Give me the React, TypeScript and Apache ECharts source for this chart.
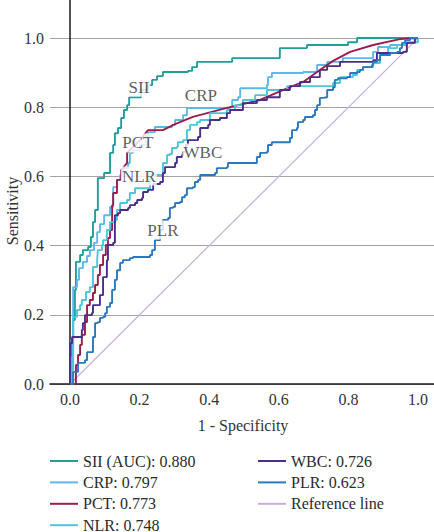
import React, { useEffect, useRef } from "react";
import * as echarts from "echarts";

const FONT = '"Liberation Serif", "Times New Roman", serif';

// Legend entries (AUC values) and line colours
const seriesNames = [
  "SII (AUC): 0.880",
  "CRP: 0.797",
  "PCT: 0.773",
  "NLR: 0.748",
  "WBC: 0.726",
  "PLR: 0.623",
  "Reference line",
];
const seriesColors = ["#1f9e9c", "#5cb8e8", "#9b1d4f", "#4cc6d8", "#4a2d8c", "#2a78bf", "#c9aee0"];

const xTicks = [0, 0.2, 0.4, 0.6, 0.8, 1.0];
const yTicks = [0, 0.2, 0.4, 0.6, 0.8, 1.0];

// ROC curve points: [1 - specificity, sensitivity]
const sii: [number, number][] = [
  [0, 0], [0.003, 0.127], [0.009, 0.185], [0.014, 0.272], [0.017, 0.353], [0.029, 0.373],
  [0.037, 0.387], [0.052, 0.396], [0.06, 0.425], [0.066, 0.468], [0.072, 0.503], [0.08, 0.595],
  [0.098, 0.61], [0.115, 0.668], [0.124, 0.691], [0.129, 0.725], [0.138, 0.74], [0.147, 0.769],
  [0.155, 0.792], [0.164, 0.806], [0.17, 0.829], [0.184, 0.829], [0.204, 0.85], [0.224, 0.864],
  [0.236, 0.879], [0.25, 0.89], [0.267, 0.902], [0.339, 0.905], [0.351, 0.916], [0.365, 0.931],
  [0.466, 0.942], [0.603, 0.971], [0.681, 0.98], [0.799, 0.988], [0.825, 1.0], [1, 1],
];

const crp: [number, number][] = [
  [0, 0], [0.006, 0.078], [0.009, 0.28], [0.02, 0.301], [0.026, 0.335], [0.037, 0.353],
  [0.049, 0.37], [0.057, 0.387], [0.069, 0.408], [0.078, 0.439], [0.086, 0.462], [0.098, 0.488],
  [0.115, 0.512], [0.124, 0.569], [0.135, 0.59], [0.144, 0.604], [0.152, 0.624], [0.167, 0.639],
  [0.172, 0.668], [0.181, 0.676], [0.201, 0.691], [0.218, 0.717], [0.224, 0.728], [0.244, 0.743],
  [0.293, 0.749], [0.302, 0.763], [0.325, 0.777], [0.336, 0.798], [0.46, 0.801], [0.466, 0.821],
  [0.483, 0.829], [0.489, 0.855], [0.566, 0.864], [0.569, 0.887], [0.58, 0.899], [0.67, 0.902],
  [0.71, 0.922], [0.739, 0.931], [0.784, 0.942], [0.871, 0.96], [0.885, 0.974], [0.92, 0.98],
  [0.968, 0.986], [0.991, 1.0], [1, 1],
];

const pct: [number, number][] = [
  [0, 0], [0.017, 0], [0.017, 0.055], [0.023, 0.055], [0.023, 0.084], [0.029, 0.084],
  [0.029, 0.113], [0.034, 0.113], [0.034, 0.142], [0.043, 0.142], [0.043, 0.179], [0.049, 0.179],
  [0.049, 0.228], [0.057, 0.228], [0.057, 0.243], [0.066, 0.243], [0.066, 0.263], [0.072, 0.263],
  [0.072, 0.286], [0.08, 0.286], [0.08, 0.315], [0.086, 0.315], [0.086, 0.344], [0.095, 0.344],
  [0.095, 0.373], [0.103, 0.373], [0.103, 0.402], [0.109, 0.402], [0.109, 0.422], [0.115, 0.422],
  [0.115, 0.445], [0.121, 0.445], [0.121, 0.517], [0.124, 0.517], [0.124, 0.552], [0.135, 0.552],
  [0.135, 0.59], [0.147, 0.59], [0.147, 0.618], [0.164, 0.639], [0.164, 0.668], [0.201, 0.705],
  [0.224, 0.734], [0.267, 0.734], [0.302, 0.751], [0.353, 0.772], [0.451, 0.798], [0.546, 0.821],
  [0.632, 0.858], [0.67, 0.873], [0.71, 0.902], [0.756, 0.934], [0.805, 0.96], [0.871, 0.98],
  [0.948, 0.997], [1, 1],
];

const nlr: [number, number][] = [
  [0, 0], [0.006, 0.04], [0.009, 0.107], [0.009, 0.194], [0.02, 0.214], [0.029, 0.228],
  [0.034, 0.243], [0.046, 0.266], [0.057, 0.28], [0.066, 0.338], [0.078, 0.358], [0.08, 0.387],
  [0.092, 0.402], [0.095, 0.416], [0.106, 0.445], [0.115, 0.468], [0.129, 0.474], [0.135, 0.503],
  [0.144, 0.523], [0.164, 0.532], [0.172, 0.552], [0.187, 0.566], [0.23, 0.604], [0.267, 0.639],
  [0.279, 0.662], [0.287, 0.665], [0.293, 0.682], [0.307, 0.685], [0.31, 0.699], [0.325, 0.705],
  [0.336, 0.734], [0.345, 0.749], [0.365, 0.757], [0.374, 0.763], [0.402, 0.783], [0.451, 0.792],
  [0.474, 0.806], [0.497, 0.821], [0.532, 0.835], [0.566, 0.85], [0.624, 0.861], [0.756, 0.87],
  [0.776, 0.887], [0.813, 0.893], [0.825, 0.908], [0.842, 0.916], [0.871, 0.928], [0.891, 0.951],
  [0.905, 0.957], [0.914, 0.971], [0.94, 0.98], [0.963, 0.988], [1, 1],
];

const wbc: [number, number][] = [
  [0, 0], [0, 0.118], [0.006, 0.136], [0.034, 0.156], [0.037, 0.176], [0.043, 0.199],
  [0.063, 0.205], [0.066, 0.228], [0.086, 0.257], [0.095, 0.309], [0.106, 0.358], [0.109, 0.402],
  [0.124, 0.408], [0.129, 0.488], [0.138, 0.494], [0.144, 0.503], [0.167, 0.509], [0.172, 0.517],
  [0.187, 0.523], [0.193, 0.532], [0.207, 0.538], [0.21, 0.555], [0.224, 0.561], [0.239, 0.578],
  [0.259, 0.584], [0.267, 0.61], [0.273, 0.627], [0.302, 0.639], [0.307, 0.656], [0.322, 0.662],
  [0.325, 0.671], [0.333, 0.691], [0.339, 0.705], [0.368, 0.714], [0.374, 0.74], [0.397, 0.749],
  [0.402, 0.763], [0.431, 0.769], [0.451, 0.783], [0.46, 0.792], [0.497, 0.812], [0.537, 0.821],
  [0.566, 0.829], [0.603, 0.85], [0.632, 0.861], [0.661, 0.873], [0.69, 0.887], [0.718, 0.908],
  [0.739, 0.919], [0.776, 0.931], [0.871, 0.936], [0.882, 0.957], [0.957, 0.96], [0.968, 0.986],
  [0.991, 1.0], [1, 1],
];

const plr: [number, number][] = [
  [0, 0], [0.009, 0.035], [0.023, 0.061], [0.043, 0.069], [0.049, 0.092], [0.066, 0.136],
  [0.072, 0.176], [0.08, 0.179], [0.086, 0.191], [0.095, 0.194], [0.101, 0.205], [0.106, 0.223],
  [0.115, 0.234], [0.121, 0.272], [0.129, 0.301], [0.135, 0.329], [0.144, 0.35], [0.152, 0.358],
  [0.172, 0.364], [0.181, 0.367], [0.23, 0.373], [0.236, 0.387], [0.244, 0.416], [0.259, 0.445],
  [0.267, 0.474], [0.282, 0.48], [0.287, 0.509], [0.296, 0.512], [0.302, 0.523], [0.316, 0.526],
  [0.322, 0.54], [0.33, 0.546], [0.336, 0.566], [0.353, 0.569], [0.359, 0.584], [0.368, 0.59],
  [0.374, 0.604], [0.417, 0.61], [0.422, 0.624], [0.451, 0.627], [0.454, 0.639], [0.532, 0.639],
  [0.537, 0.656], [0.546, 0.668], [0.566, 0.671], [0.569, 0.691], [0.58, 0.699], [0.632, 0.711],
  [0.638, 0.734], [0.652, 0.74], [0.655, 0.757], [0.67, 0.763], [0.675, 0.772], [0.698, 0.777],
  [0.704, 0.792], [0.71, 0.806], [0.718, 0.827], [0.727, 0.829], [0.739, 0.85], [0.756, 0.858],
  [0.761, 0.879], [0.77, 0.884], [0.796, 0.887], [0.805, 0.899], [0.825, 0.902], [0.833, 0.908],
  [0.842, 0.916], [0.868, 0.922], [0.871, 0.931], [0.882, 0.936], [0.891, 0.951], [0.92, 0.957],
  [0.94, 0.96], [0.948, 0.971], [0.954, 0.986], [0.963, 0.994], [0.977, 1.0], [1, 1],
];

const referenceLine: [number, number][] = [[0, 0], [1, 1]];

// Curve name tags placed inside the plot
const curveTags: { name: string; value: [number, number] }[] = [
  { name: "SII", value: [0.198, 0.858] },
  { name: "CRP", value: [0.376, 0.835] },
  { name: "PCT", value: [0.195, 0.697] },
  { name: "NLR", value: [0.198, 0.601] },
  { name: "WBC", value: [0.382, 0.668] },
  { name: "PLR", value: [0.267, 0.445] },
];

const curveData = [sii, crp, pct, nlr, wbc, plr, referenceLine];
const stepped = [true, true, false, true, true, true, false];

export default function App() {
  const ref = useRef<HTMLDivElement>(null);

  useEffect(() => {
    if (!ref.current) return;
    const chart = echarts.init(ref.current, undefined, { renderer: "svg" });

    const lineSeries = curveData.map((data, i) => ({
      type: "line",
      name: seriesNames[i],
      data,
      step: stepped[i] ? "end" : undefined,
      showSymbol: false,
      symbol: "none",
      color: seriesColors[i],
      lineStyle: { color: seriesColors[i], width: i === 6 ? 1.2 : 1.9 },
      z: i === 6 ? 1 : 2,
      silent: true,
    }));

    const legendCommon = {
      orient: "vertical",
      icon: "rect",
      itemWidth: 28,
      itemHeight: 2,
      itemGap: 5.4,
      height: 110,
      padding: 0,
      textStyle: { fontFamily: FONT, fontSize: 16, color: "#2a2a2a", lineHeight: 16 },
      selectedMode: false,
    };

    chart.setOption({
      animation: false,
      backgroundColor: "#ffffff",
      grid: { left: 50, top: 0, width: 384, height: 384, containLabel: false },
      legend: [
        { ...legendCommon, data: seriesNames.slice(0, 4), left: 50, top: 453 },
        { ...legendCommon, data: seriesNames.slice(4), left: 258, top: 453 },
      ],
      xAxis: {
        type: "value",
        min: -0.0575,
        max: 1.046,
        axisLine: { show: true, lineStyle: { color: "#1a1a1a", width: 1.5 } },
        axisTick: { show: false, customValues: xTicks },
        splitLine: { show: false },
        axisLabel: {
          customValues: xTicks,
          formatter: (v: number) => v.toFixed(1),
          fontFamily: FONT,
          fontSize: 16,
          color: "#333",
          margin: 7,
        },
      },
      yAxis: {
        type: "value",
        min: 0,
        max: 1.11,
        axisLine: { show: true, lineStyle: { color: "#1a1a1a", width: 1.5 } },
        axisTick: { show: false, customValues: yTicks },
        splitLine: { show: true, lineStyle: { color: "#a3a3a3", width: 1 } },
        axisLabel: {
          customValues: yTicks,
          formatter: (v: number) => v.toFixed(1),
          fontFamily: FONT,
          fontSize: 16,
          color: "#333",
          margin: 6,
        },
      },
      series: [
        ...lineSeries,
        {
          type: "scatter",
          name: "tags",
          data: curveTags,
          symbolSize: 0,
          z: 10,
          silent: true,
          label: {
            show: true,
            position: "inside",
            formatter: "{b}",
            fontFamily: FONT,
            fontSize: 17,
            color: "#333",
            backgroundColor: "#ffffff",
            padding: [1, 1],
          },
        },
      ],
      graphic: [
        {
          type: "text",
          x: 12,
          y: 211,
          rotation: Math.PI / 2,
          style: {
            text: "Sensitivity",
            fontFamily: FONT,
            fontSize: 16,
            fill: "#333",
            align: "center",
            verticalAlign: "middle",
          },
        },
        {
          type: "text",
          x: 243,
          y: 425,
          style: {
            text: "1 - Specificity",
            fontFamily: FONT,
            fontSize: 16,
            fill: "#333",
            align: "center",
            verticalAlign: "middle",
          },
        },
      ],
    });

    return () => chart.dispose();
  }, []);

  return (
    <div
      ref={ref}
      style={{ position: "absolute", left: 0, top: 0, width: 434, height: 532, background: "#fff" }}
    />
  );
}
